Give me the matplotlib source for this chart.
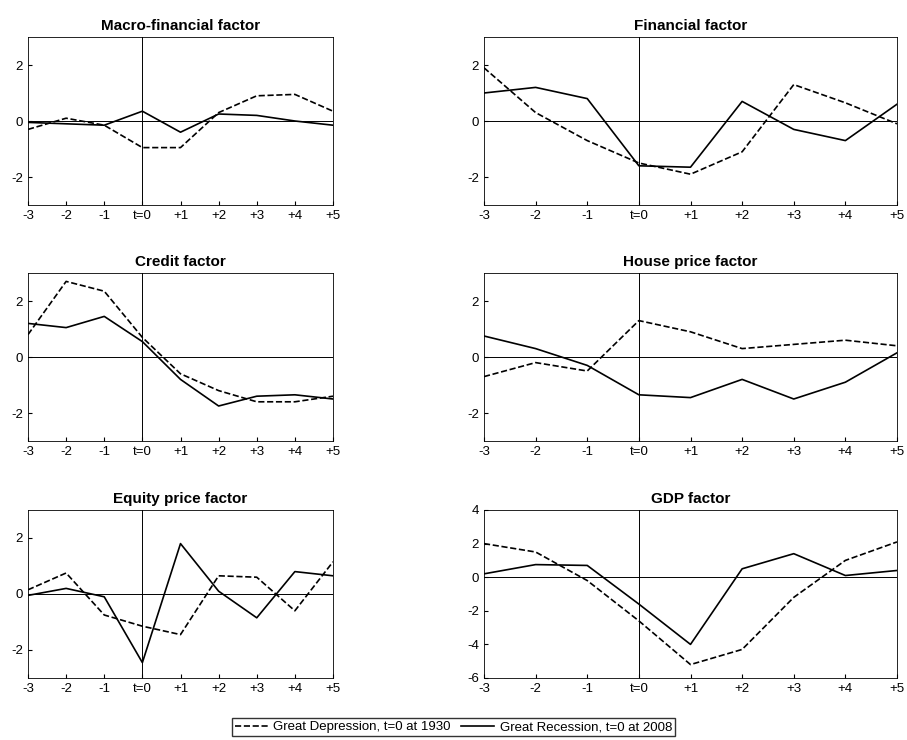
import matplotlib.pyplot as plt

plt.rcParams['font.family'] = ['Liberation Sans', 'DejaVu Sans']
plt.rcParams['axes.unicode_minus'] = False

periods = ['-3', '-2', '-1', 't=0', '+1', '+2', '+3', '+4', '+5']
titles = ['Macro-financial factor', 'Financial factor', 'Credit factor',
          'House price factor', 'Equity price factor', 'GDP factor']

depression = [
    [-0.3, 0.1, -0.15, -0.95, -0.95, 0.3, 0.9, 0.95, 0.35],
    [1.9, 0.3, -0.7, -1.5, -1.9, -1.1, 1.3, 0.65, -0.1],
    [0.8, 2.7, 2.35, 0.7, -0.6, -1.2, -1.6, -1.6, -1.4],
    [-0.7, -0.2, -0.5, 1.3, 0.9, 0.3, 0.45, 0.6, 0.4],
    [0.15, 0.75, -0.75, -1.15, -1.45, 0.65, 0.6, -0.6, 1.15],
    [2.0, 1.5, -0.2, -2.6, -5.2, -4.3, -1.2, 1.0, 2.1],
]
recession = [
    [-0.05, -0.1, -0.15, 0.35, -0.4, 0.25, 0.2, 0.0, -0.15],
    [1.0, 1.2, 0.8, -1.6, -1.65, 0.7, -0.3, -0.7, 0.6],
    [1.2, 1.05, 1.45, 0.55, -0.8, -1.75, -1.4, -1.35, -1.5],
    [0.75, 0.3, -0.3, -1.35, -1.45, -0.8, -1.5, -0.9, 0.15],
    [-0.05, 0.2, -0.1, -2.45, 1.8, 0.1, -0.85, 0.8, 0.65],
    [0.2, 0.75, 0.7, -1.6, -4.0, 0.5, 1.4, 0.1, 0.4],
]

fig = plt.figure(figsize=(9.07, 7.40), dpi=100)
W, H = 907, 740
lefts = [28, 484]
widths = [305, 413]
tops = [37, 273, 510]
h = 168
x = list(range(len(periods)))
for i in range(6):
    r, c = divmod(i, 2)
    ax = fig.add_axes([lefts[c] / W, 1 - (tops[r] + h) / H, widths[c] / W, h / H])
    l1, = ax.plot(x, depression[i], 'k--', lw=1.2)
    l2, = ax.plot(x, recession[i], 'k-', lw=1.2)
    ax.axhline(0, color='k', lw=0.7)
    ax.axvline(3, color='k', lw=0.7)
    ax.set_xlim(0, 8)
    if i == 5:
        ax.set_ylim(-6, 4)
        ax.set_yticks([-6, -4, -2, 0, 2, 4])
    else:
        ax.set_ylim(-3, 3)
        ax.set_yticks([-2, 0, 2])
    ax.set_xticks(x)
    ax.set_xticklabels(periods)
    ax.tick_params(direction='in', labelsize=9.5, length=3)
    ax.set_title(titles[i], fontsize=11, fontweight='bold', pad=5)
    for s in ax.spines.values():
        s.set_linewidth(0.6)

fig.legend([l1, l2], ['Great Depression, t=0 at 1930', 'Great Recession, t=0 at 2008'],
           loc='center', bbox_to_anchor=(0.5, 1 - 727 / H), ncol=2, fontsize=9.5,
           frameon=True, fancybox=False, edgecolor='k', handlelength=2.5,
           borderpad=0.2, columnspacing=0.8, handletextpad=0.4)
fig.savefig('out.png', dpi=100, facecolor='white')
